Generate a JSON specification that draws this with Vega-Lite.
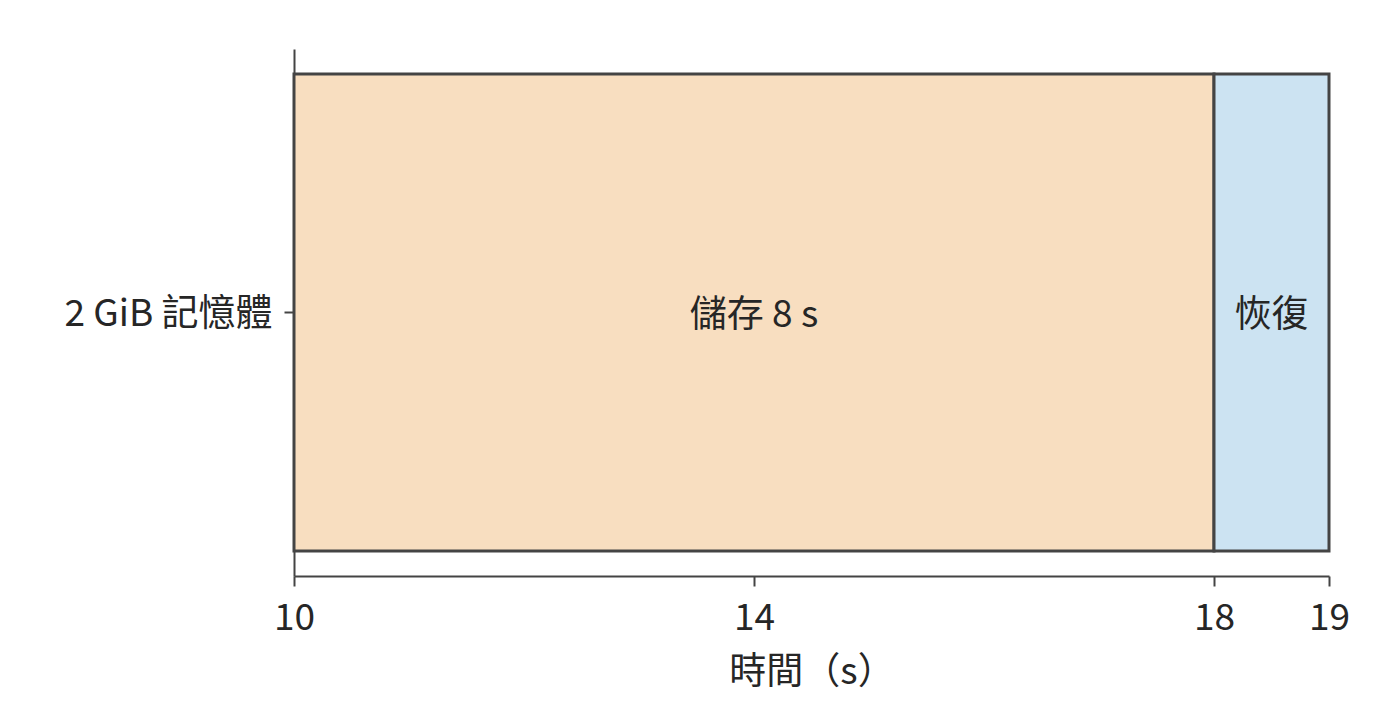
{
  "$schema": "https://vega.github.io/schema/vega-lite/v6.json",
  "width": 1035,
  "height": 527,
  "autosize": {"type": "none"},
  "padding": {"left": 294, "top": 49, "right": 71, "bottom": 144},
  "background": "white",
  "config": {
    "view": {"stroke": null},
    "font": "Noto Sans CJK TC",
    "axis": {
      "domainColor": "#444444",
      "domainWidth": 2,
      "tickColor": "#444444",
      "tickWidth": 2,
      "tickSize": 10,
      "labelFont": "Noto Sans CJK TC",
      "labelFontSize": 37,
      "labelColor": "#262626",
      "labelLimit": 0,
      "titleFont": "Noto Sans CJK TC",
      "titleFontSize": 37,
      "titleFontWeight": "normal",
      "titleColor": "#262626",
      "grid": false
    }
  },
  "data": {
    "values": [
      {"row": "2 GiB 記憶體", "phase": "儲存", "start": 10, "end": 18, "label": "儲存 8 s"},
      {"row": "2 GiB 記憶體", "phase": "恢復", "start": 18, "end": 19, "label": "恢復"}
    ]
  },
  "transform": [{"calculate": "(datum.start + datum.end) / 2", "as": "mid"}],
  "encoding": {
    "y": {
      "field": "row",
      "type": "nominal",
      "title": null,
      "scale": {"paddingInner": 0, "paddingOuter": 0.0524},
      "axis": {"labelPadding": 12, "labelAngle": 0, "labelBaseline": "middle", "labelOffset": 2}
    }
  },
  "layer": [
    {
      "mark": {"type": "bar", "stroke": "#444444", "strokeWidth": 3},
      "encoding": {
        "x": {
          "field": "start",
          "type": "quantitative",
          "title": "時間（s）",
          "scale": {"domain": [10, 19], "nice": false, "zero": false},
          "axis": {"values": [10, 14, 18, 19], "format": "d", "labelFlush": false, "labelPadding": 14, "titlePadding": 18}
        },
        "x2": {"field": "end"},
        "color": {
          "field": "phase",
          "type": "nominal",
          "scale": {"domain": ["儲存", "恢復"], "range": ["#f8dec0", "#cce3f2"]},
          "legend": null
        }
      }
    },
    {
      "mark": {"type": "text", "fontSize": 37, "color": "#262626", "font": "Noto Sans CJK TC", "dy": 3},
      "encoding": {
        "x": {"field": "mid", "type": "quantitative"},
        "text": {"field": "label"}
      }
    }
  ]
}
